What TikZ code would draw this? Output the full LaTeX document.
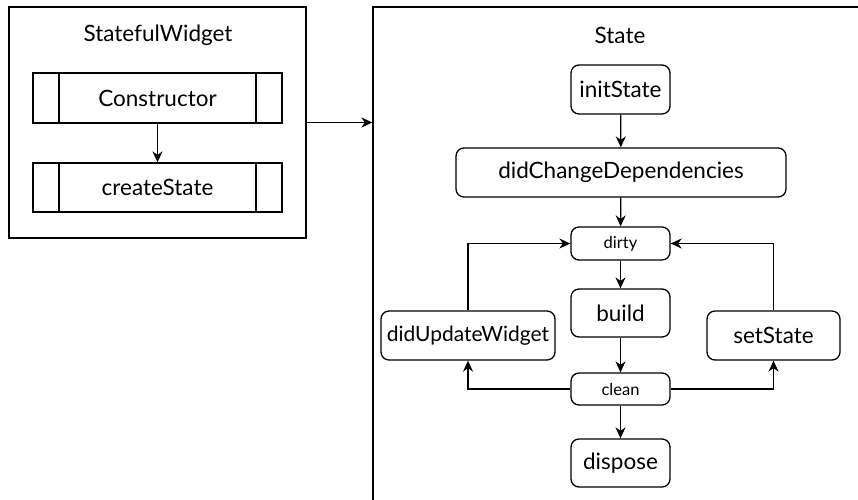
\documentclass[tikz,border=0pt]{standalone}
\usepackage{fontspec}
\setmainfont{Lato}
\usetikzlibrary{arrows.meta}

\tikzset{
  flow/.style={line width=1.3pt, -{Stealth[length=11pt,width=10pt]}},
  outerbox/.style={draw, line width=1.3pt, inner sep=0pt},
  procbox/.style={draw, line width=1.3pt, minimum width=249pt, minimum height=50pt,
    font=\fontsize{22.5}{26}\selectfont,
    path picture={
      \draw[line width=1.3pt] ([xshift=26pt]path picture bounding box.north west) -- ([xshift=26pt]path picture bounding box.south west);
      \draw[line width=1.3pt] ([xshift=-26pt]path picture bounding box.north east) -- ([xshift=-26pt]path picture bounding box.south east);
    }},
  stepbox/.style={draw, line width=1.3pt, rounded corners=8pt, minimum height=49pt,
    inner sep=2pt, font=\fontsize{22.5}{26}\selectfont},
  tagbox/.style={draw, line width=1.3pt, rounded corners=8pt, minimum width=99pt,
    inner sep=1pt, font=\fontsize{16.5}{18}\selectfont},
  title/.style={font=\fontsize{22.5}{26}\selectfont}
}

\begin{document}
\begin{tikzpicture}[x=1pt,y=1pt,yscale=-1]
\useasboundingbox (0,0) rectangle (858,499);
\clip (0,0) rectangle (858,499);
% outer boxes
\node[outerbox, minimum width=297pt, minimum height=231pt] (sw) at (157.5,122.5) {};
\node[outerbox, minimum width=600pt, minimum height=600pt] (st) at (673,307) {};
\node[title] (swtitle) at (158,35) {StatefulWidget};
\node[title] (sttitle) at (620,35) {State};
% widget side
\node[procbox] (ctor) at (157.5,98) {Constructor};
\node[procbox, minimum height=49pt] (create) at (157.5,187.5) {createState};
% state side
\node[stepbox, minimum width=99pt] (init) at (620.5,89.5) {initState};
\node[stepbox, minimum width=330pt] (deps) at (621,172.5) {didChangeDependencies};
\node[tagbox, minimum height=33pt] (dirty) at (620.5,243.5) {dirty};
\node[stepbox, minimum width=99pt, minimum height=48pt] (build) at (620.5,313) {build};
\node[tagbox, minimum height=32pt] (clean) at (620.5,389) {clean};
\node[stepbox, minimum width=99pt, minimum height=48pt] (dispose) at (620.5,463) {dispose};
\node[stepbox, minimum width=174pt, inner xsep=0pt, font=\fontsize{21}{24}\selectfont] (update) at (468,335.5) {didUpdateWidget};
\node[stepbox, minimum width=133pt] (set) at (773.5,335.5) {setState};
% connectors
\draw[flow] (ctor) -- (create);
\draw[flow] (sw.east) -- (sw.east -| st.west);
\draw[flow] (init) -- (deps);
\draw[flow] (deps) -- (dirty);
\draw[flow] (dirty) -- (build);
\draw[flow] (build) -- (clean);
\draw[flow] (clean) -- (dispose);
\draw[flow] (update.north) |- (dirty.west);
\draw[flow] (set.north) |- (dirty.east);
\draw[flow] (clean.west) -| (update.south);
\draw[flow] (clean.east) -| (set.south);
\end{tikzpicture}
\end{document}
